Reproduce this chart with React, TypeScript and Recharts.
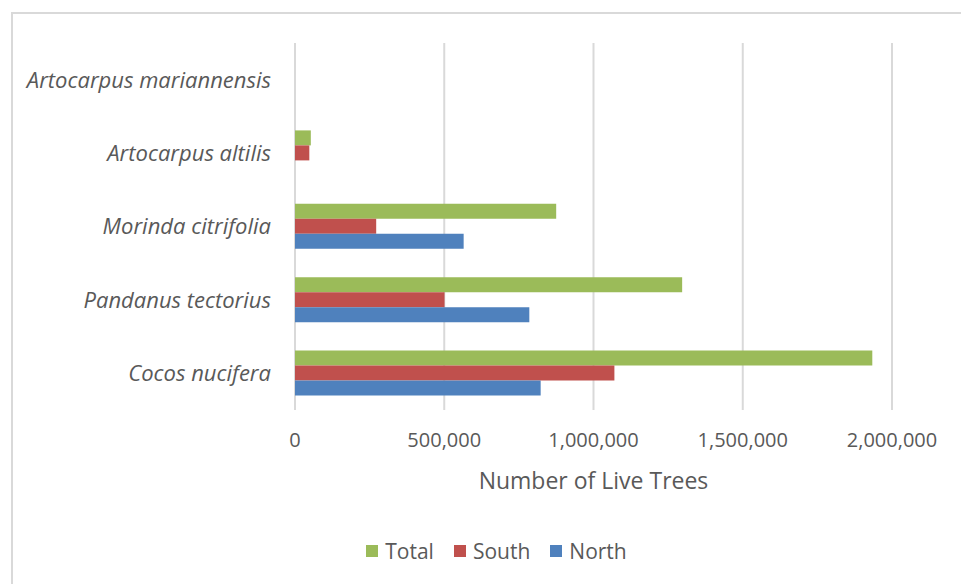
import { BarChart, Bar, XAxis, YAxis, CartesianGrid } from 'recharts'

const species = [
  'Artocarpus mariannensis',
  'Artocarpus altilis',
  'Morinda citrifolia',
  'Pandanus tectorius',
  'Cocos nucifera',
]
const totalTrees = [0, 53000, 875000, 1297000, 1934000]
const southTrees = [0, 48000, 272000, 501000, 1070000]
const northTrees = [0, 0, 565000, 785000, 823000]
const xTicks = [0, 500000, 1000000, 1500000, 2000000]

const series = [
  { key: 'total', name: 'Total', color: '#9bbb59' },
  { key: 'south', name: 'South', color: '#c0504d' },
  { key: 'north', name: 'North', color: '#4f81bd' },
]

const data = species.map((name, i) => ({
  name,
  total: totalTrees[i],
  south: southTrees[i],
  north: northTrees[i],
}))

const FONT = '"Open Sans", sans-serif'
const TEXT = '#595959'

export default function App() {
  return (
    <div
      style={{
        position: 'fixed',
        left: 0,
        top: 0,
        width: 961,
        height: 584,
        overflow: 'hidden',
        background: '#fff',
        fontFamily: FONT,
      }}
    >
      <div
        style={{
          position: 'absolute',
          left: 11,
          top: 12,
          width: 1000,
          height: 640,
          border: '2px solid #d9d9d9',
        }}
      />
      <div style={{ position: 'absolute', left: 0, top: 0 }}>
        <BarChart
          width={961}
          height={584}
          data={data}
          layout="vertical"
          margin={{ top: 43, right: 69, left: 0, bottom: 90 }}
          barSize={15}
          barGap={0}
        >
          <CartesianGrid horizontal={false} stroke="#d9d9d9" strokeWidth={2} />
          <XAxis
            type="number"
            domain={[0, 2000000]}
            ticks={xTicks}
            axisLine={false}
            tickLine={false}
            tickMargin={17}
            height={84}
            tickFormatter={(v: number) => v.toLocaleString('en-US')}
            tick={{ fontSize: 20, fill: TEXT, fontFamily: FONT }}
            label={{
              value: 'Number of Live Trees',
              position: 'insideBottom',
              offset: 5,
              style: { fontSize: 23, fill: TEXT, fontFamily: FONT },
            }}
          />
          <YAxis
            type="category"
            dataKey="name"
            width={295}
            axisLine={false}
            tickLine={false}
            tickMargin={18}
            tick={{ fontSize: 22, fill: TEXT, fontFamily: FONT, fontStyle: 'italic' }}
          />
          {series.map((s) => (
            <Bar
              key={s.key}
              dataKey={s.key}
              name={s.name}
              fill={s.color}
              isAnimationActive={false}
            />
          ))}
        </BarChart>
      </div>
      <div
        style={{
          position: 'absolute',
          top: 538,
          left: 16,
          width: 961,
          display: 'flex',
          justifyContent: 'center',
          gap: 20,
          fontSize: 21,
          color: TEXT,
          lineHeight: '26px',
        }}
      >
        {series.map((s) => (
          <div key={s.key} style={{ display: 'flex', alignItems: 'center' }}>
            <span
              style={{
                display: 'inline-block',
                width: 12,
                height: 12,
                background: s.color,
                marginRight: 7,
              }}
            />
            {s.name}
          </div>
        ))}
      </div>
    </div>
  )
}
